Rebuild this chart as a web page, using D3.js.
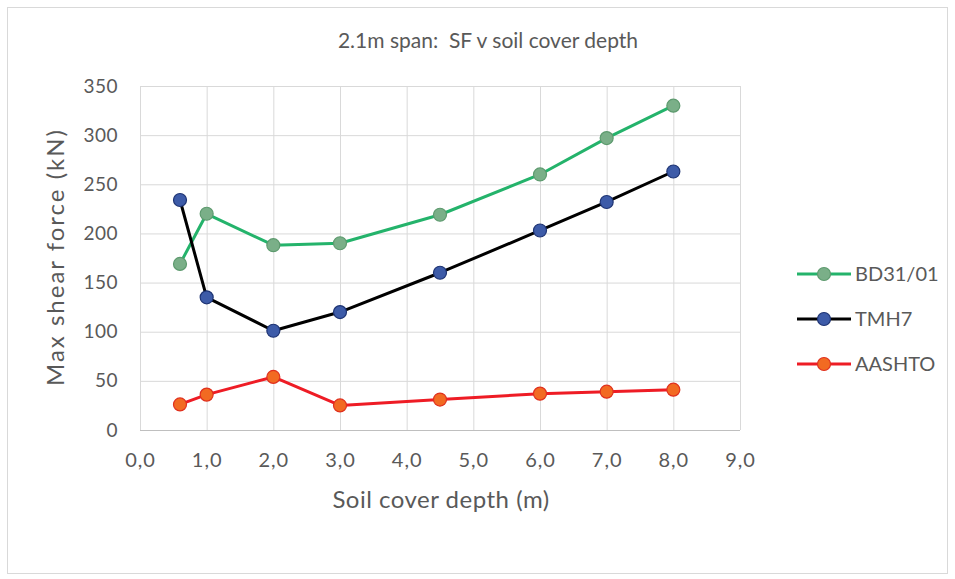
<!DOCTYPE html>
<html>
<head>
<meta charset="utf-8">
<script src="https://cdn.jsdelivr.net/npm/d3@7"></script>
<style>
  body { margin: 0; background: #fff; }
  text { font-family: Lato, "Open Sans", sans-serif; fill: #595959; white-space: pre; }
</style>
</head>
<body>
<div id="chart"></div>
<script>
var width = 955;
var height = 579;

// data
var depths = [0.6, 1.0, 2.0, 3.0, 4.5, 6.0, 7.0, 8.0];
var bd31 = [169, 220, 188, 190, 219, 260, 297, 330];
var tmh7 = [234, 135, 101, 120, 160, 203, 232, 263];
var aashto = [26, 36, 54, 25, 31, 37, 39, 41];
var seriesNames = ["BD31/01", "TMH7", "AASHTO"];
var xTicks = [0, 1, 2, 3, 4, 5, 6, 7, 8, 9];
var yTicks = [0, 50, 100, 150, 200, 250, 300, 350];

var series = [
  {name: seriesNames[0], values: bd31, line: "#24b36b", fill: "#7aaf88", stroke: "#5d9a6e"},
  {name: seriesNames[1], values: tmh7, line: "#000000", fill: "#3d5ba8", stroke: "#1e3474"},
  {name: seriesNames[2], values: aashto, line: "#ee1c25", fill: "#f26a22", stroke: "#e0301e"}
];

var svg = d3.select("#chart").append("svg")
  .attr("width", width)
  .attr("height", height);

// outer border
svg.append("rect")
  .attr("x", 7.5).attr("y", 7.5)
  .attr("width", width - 15).attr("height", height - 13)
  .attr("fill", "#fff")
  .attr("stroke", "#d9d9d9");

var x = d3.scaleLinear().domain([0, 9]).range([140, 740]);
var y = d3.scaleLinear().domain([0, 350]).range([430, 86]);

// grid
svg.append("g").selectAll("line.h")
  .data(yTicks)
  .enter().append("line")
    .attr("x1", x(0)).attr("x2", x(9))
    .attr("y1", function(d) { return y(d) + 0.5; })
    .attr("y2", function(d) { return y(d) + 0.5; })
    .attr("stroke", function(d) { return d === 0 ? "#bfbfbf" : "#d9d9d9"; });

svg.append("g").selectAll("line.v")
  .data(xTicks)
  .enter().append("line")
    .attr("x1", function(d) { return x(d) + 0.5; })
    .attr("x2", function(d) { return x(d) + 0.5; })
    .attr("y1", y(350)).attr("y2", y(0))
    .attr("stroke", "#d9d9d9");

// axes (labels only)
var xAxis = svg.append("g")
  .attr("transform", "translate(0," + y(0) + ")")
  .call(d3.axisBottom(x).tickValues(xTicks).tickSize(0).tickPadding(23)
    .tickFormat(function(d) { return d3.format(".1f")(d).replace(".", ","); }));
xAxis.select(".domain").remove();
xAxis.selectAll("text").attr("font-size", 20).attr("letter-spacing", 1).style("font-family", null);

var yAxis = svg.append("g")
  .attr("transform", "translate(" + x(0) + ",0)")
  .call(d3.axisLeft(y).tickValues(yTicks).tickSize(0).tickPadding(22));
yAxis.select(".domain").remove();
yAxis.selectAll("text").attr("font-size", 19).attr("letter-spacing", 0.5).style("font-family", null);

// titles
svg.append("text")
  .attr("x", 488).attr("y", 48)
  .attr("text-anchor", "middle")
  .attr("font-size", 21)
  .text("2.1m span:  SF v soil cover depth");

svg.append("text")
  .attr("x", 441).attr("y", 508)
  .attr("text-anchor", "middle")
  .attr("font-size", 24)
  .attr("letter-spacing", 0.5)
  .text("Soil cover depth (m)");

svg.append("text")
  .attr("transform", "translate(64,257) rotate(-90)")
  .attr("text-anchor", "middle")
  .attr("font-size", 24)
  .attr("letter-spacing", 2)
  .text("Max shear force (kN)");

// lines and markers
var line = d3.line()
  .x(function(d, i) { return x(depths[i]); })
  .y(function(d) { return y(d); });

series.forEach(function(s) {
  svg.append("path")
    .datum(s.values)
    .attr("fill", "none")
    .attr("stroke", s.line)
    .attr("stroke-width", 3)
    .attr("stroke-linejoin", "round")
    .attr("d", line);

  svg.append("g").selectAll("circle")
    .data(s.values)
    .enter().append("circle")
      .attr("cx", function(d, i) { return x(depths[i]); })
      .attr("cy", function(d) { return y(d); })
      .attr("r", 6.5)
      .attr("fill", s.fill)
      .attr("stroke", s.stroke)
      .attr("stroke-width", 1.2);
});

// legend
var legend = svg.append("g").selectAll("g")
  .data(series)
  .enter().append("g")
    .attr("transform", function(d, i) { return "translate(797," + (274 + i * 45) + ")"; });

legend.append("line")
  .attr("x1", 0).attr("x2", 54)
  .attr("stroke", function(d) { return d.line; })
  .attr("stroke-width", 3);
legend.append("circle")
  .attr("cx", 27).attr("r", 6.5)
  .attr("fill", function(d) { return d.fill; })
  .attr("stroke", function(d) { return d.stroke; })
  .attr("stroke-width", 1.2);
legend.append("text")
  .attr("x", 58).attr("dy", "0.35em")
  .attr("font-size", 20)
  .text(function(d) { return d.name; });
</script>
</body>
</html>
